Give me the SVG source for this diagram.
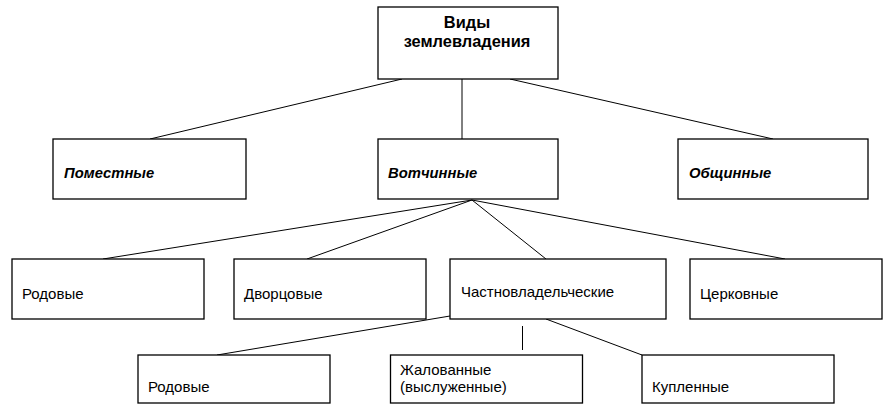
<svg xmlns="http://www.w3.org/2000/svg" width="890" height="414" viewBox="0 0 890 414">
<style>
.box{fill:#fff;stroke:#000;stroke-width:1.3}
.ln{stroke:#000;stroke-width:1;fill:none}
.t{font-family:"Liberation Sans",Arial,sans-serif;font-size:15px;fill:#000}
.bi{font-family:"Liberation Sans",Arial,sans-serif;font-size:14.8px;font-weight:bold;font-style:italic;fill:#000}
.b{font-family:"Liberation Sans",Arial,sans-serif;font-size:16.4px;font-weight:bold;fill:#000}
</style>
<rect width="890" height="414" fill="#fff"/>
<g id="connectors">
<line class="ln" x1="402" y1="79" x2="150" y2="139"/>
<line class="ln" x1="462" y1="79" x2="462" y2="139"/>
<line class="ln" x1="510" y1="79" x2="773" y2="139"/>
<line class="ln" x1="472" y1="200" x2="103" y2="259"/>
<line class="ln" x1="472" y1="200" x2="307" y2="259"/>
<line class="ln" x1="472" y1="200" x2="546" y2="259"/>
<line class="ln" x1="472" y1="200" x2="785" y2="259"/>
<line class="ln" x1="450" y1="316" x2="217" y2="355"/>
<line class="ln" x1="522.5" y1="326" x2="522.5" y2="350"/>
<line class="ln" x1="546" y1="319" x2="642" y2="355"/>
</g>
<g id="n-root">
<rect class="box" x="378" y="7" width="180" height="72"/>
<text class="b" x="467" y="28" text-anchor="middle">Виды</text>
<text class="b" x="467" y="47" text-anchor="middle">землевладения</text>
</g>
<g id="n-pomestnye">
<rect class="box" x="53" y="139" width="193" height="60"/>
<text class="bi" x="64" y="178">Поместные</text>
</g>
<g id="n-votchinnye">
<rect class="box" x="378" y="139" width="180" height="60"/>
<text class="bi" x="388" y="178">Вотчинные</text>
</g>
<g id="n-obshchinnye">
<rect class="box" x="678" y="139" width="190" height="60"/>
<text class="bi" x="689" y="178">Общинные</text>
</g>
<g id="n-rodovye">
<rect class="box" x="12" y="259" width="192" height="60"/>
<text class="t" x="22" y="299">Родовые</text>
</g>
<g id="n-dvortsovye">
<rect class="box" x="234" y="259" width="192" height="60"/>
<text class="t" x="244" y="299">Дворцовые</text>
</g>
<g id="n-chastno">
<rect class="box" x="450" y="259" width="216" height="60"/>
<text class="t" x="461" y="297">Частновладельческие</text>
</g>
<g id="n-tserkovnye">
<rect class="box" x="690" y="259" width="192" height="60"/>
<text class="t" x="700" y="299">Церковные</text>
</g>
<g id="n-rodovye2">
<rect class="box" x="138" y="355" width="192" height="48"/>
<text class="t" x="148" y="392">Родовые</text>
</g>
<g id="n-zhalovannye">
<rect class="box" x="390.5" y="355" width="192" height="48"/>
<text class="t" x="400" y="375">Жалованные</text>
<text class="t" x="400" y="392">(выслуженные)</text>
</g>
<g id="n-kuplennye">
<rect class="box" x="642" y="355" width="192" height="48"/>
<text class="t" x="652" y="392">Купленные</text>
</g>
</svg>
